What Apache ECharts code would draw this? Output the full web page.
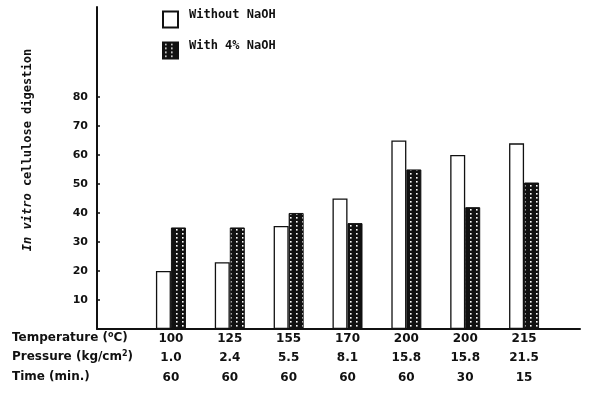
<!DOCTYPE html>
<html><head><meta charset="utf-8">
<script src="https://cdn.jsdelivr.net/npm/echarts@6/dist/echarts.min.js"></script>
<style>html,body{margin:0;padding:0;background:#fff}#c{width:600px;height:393px}</style>
</head><body><div id="c"></div>
<script>
const temperatures = ['100','125','155','170','200','200','215'];
const pressures = ['1.0','2.4','5.5','8.1','15.8','15.8','21.5'];
const times = ['60','60','60','60','60','30','15'];
const withoutNaOH = [20, 23, 35.5, 45, 65, 60, 64];
const withNaOH = [35, 35, 40, 36.5, 55, 42, 50.5];
const yTicks = [10, 20, 30, 40, 50, 60, 70, 80];
const seriesNames = ['Without NaOH', 'With 4% NaOH'];

const pc = document.createElement('canvas');
pc.width = 6; pc.height = 4;
const g = pc.getContext('2d');
g.fillStyle = '#111'; g.fillRect(0, 0, 6, 4);
g.fillStyle = '#fff'; g.fillRect(2, 1, 1.6, 1.6);
const dotted = { image: pc, repeat: 'repeat' };

const chart = echarts.init(document.getElementById('c'), null, { renderer: 'canvas' });
const FONT = 'DejaVu Sans';
const MONO = 'DejaVu Sans Mono';
const ink = '#111';
const sup = { fontSize: 8, verticalAlign: 'top', padding: [0, 0, 6, 0], fontFamily: FONT, fontWeight: 'bold', fill: ink, color: ink };

chart.setOption({
  animation: false,
  backgroundColor: '#fff',
  grid: [
    { left: 97, right: 20, top: 7, bottom: 64 },
    { left: 141.5, right: 46.5, top: 7, bottom: 64 }
  ],
  legend: {
    data: seriesNames,
    orient: 'vertical',
    left: 157, top: 4,
    itemWidth: 15, itemHeight: 16, itemGap: 11.5,
    icon: 'rect',
    formatter: name => '{t|' + name + '}',
    textStyle: { fontFamily: MONO, fontSize: 12, fontWeight: 'bold', color: ink,
      rich: { t: { fontFamily: MONO, fontSize: 12, fontWeight: 'bold', color: ink, padding: [0, 0, 9, 6] } } }
  },
  xAxis: [
    { gridIndex: 0, type: 'value', min: 0, max: 1, axisLine: { lineStyle: { color: ink, width: 2 } },
      axisTick: { show: false }, axisLabel: { show: false }, splitLine: { show: false } },
    { gridIndex: 1, type: 'category', data: temperatures, axisLine: { show: false }, axisTick: { show: false },
      axisLabel: { margin: 0, fontFamily: FONT, fontSize: 12, fontWeight: 'bold', color: ink, lineHeight: 19.5,
        formatter: (v, i) => temperatures[i] + '\n' + pressures[i] + '\n' + times[i] } }
  ],
  yAxis: [
    { gridIndex: 0, type: 'value', min: 0, max: 111, interval: 10,
      axisLine: { show: true, lineStyle: { color: ink, width: 2 } },
      axisTick: { show: true, inside: true, length: 3, customValues: yTicks, lineStyle: { color: ink, width: 1.5 } },
      axisLabel: { customValues: yTicks, margin: 9, fontFamily: FONT, fontSize: 11, fontWeight: 'bold', color: ink },
      splitLine: { show: false } },
    { gridIndex: 1, type: 'value', min: 0, max: 111, show: false, splitLine: { show: false } }
  ],
  series: [
    { name: seriesNames[0], type: 'bar', xAxisIndex: 1, yAxisIndex: 1, data: withoutNaOH,
      barWidth: 15, barGap: '0%', itemStyle: { color: '#fff', borderColor: ink, borderWidth: 1.3 } },
    { name: seriesNames[1], type: 'bar', xAxisIndex: 1, yAxisIndex: 1, data: withNaOH,
      barWidth: 15, barGap: '0%', itemStyle: { color: dotted, borderColor: ink, borderWidth: 1 } }
  ],
  graphic: [
    { type: 'text', x: 28, y: 150, rotation: Math.PI / 2,
      style: { text: '{i|In vitro} cellulose digestion', fontFamily: MONO, fontSize: 12, fontWeight: 'bold',
        fill: ink, align: 'center', verticalAlign: 'middle',
        rich: { i: { fontFamily: MONO, fontSize: 12, fontWeight: 'bold', fontStyle: 'italic', fill: ink } } } },
    { type: 'text', x: 12, y: 338,
      style: { text: 'Temperature ({s|o}C)', fontFamily: FONT, fontSize: 12, fontWeight: 'bold', fill: ink, verticalAlign: 'middle', rich: { s: sup } } },
    { type: 'text', x: 12, y: 357,
      style: { text: 'Pressure (kg/cm{s|2})', fontFamily: FONT, fontSize: 12, fontWeight: 'bold', fill: ink, verticalAlign: 'middle', rich: { s: sup } } },
    { type: 'text', x: 12, y: 377,
      style: { text: 'Time (min.)', fontFamily: FONT, fontSize: 12, fontWeight: 'bold', fill: ink, verticalAlign: 'middle' } }
  ]
});
</script></body></html>
